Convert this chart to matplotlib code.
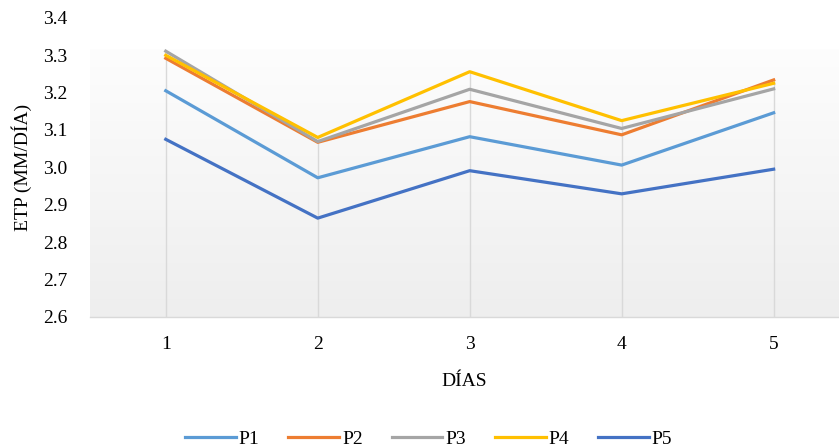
import numpy as np
import matplotlib.pyplot as plt
from matplotlib.colors import LinearSegmentedColormap

# datos
dias = [1, 2, 3, 4, 5]
p1 = [3.205, 2.972, 3.082, 3.006, 3.146]
p2 = [3.292, 3.067, 3.176, 3.087, 3.234]
p3 = [3.311, 3.069, 3.209, 3.104, 3.210]
p4 = [3.300, 3.080, 3.256, 3.125, 3.225]
p5 = [3.075, 2.864, 2.991, 2.929, 2.995]
nombres = ["P1", "P2", "P3", "P4", "P5"]
colores = ["#5B9BD5", "#ED7D31", "#A5A5A5", "#FFC000", "#4472C4"]

plt.rcParams['font.family'] = ['Liberation Serif', 'DejaVu Serif']

fig = plt.figure(figsize=(8.39, 4.48), dpi=100)
ax = fig.add_axes([0.107, 0.293, 0.893, 0.667])

ax.set_xlim(0.5, 5.43)
ax.set_ylim(2.6, 3.4)

series = [p1, p2, p3, p4, p5]

# fondo degradado del area de trazado
grad = np.linspace(0, 1, 256).reshape(-1, 1)
cmap = LinearSegmentedColormap.from_list("fondo", ["#fdfdfd", "#eeeeee"])
ax.imshow(grad, extent=(0.5, 5.43, 2.6, 3.315), cmap=cmap, aspect='auto', origin='upper', zorder=0)

# lineas de caida (desde el eje hasta el punto mas alto)
maximos = np.max(np.array(series), axis=0)
ax.vlines(dias, 2.6, maximos, color="#d9d9d9", lw=1, zorder=1)

for serie, nombre, c in zip(series, nombres, colores):
    ax.plot(dias, serie, color=c, lw=2.3, label=nombre, zorder=3)

ax.set_xticks(dias)
ax.set_yticks(np.arange(2.6, 3.41, 0.1))
ax.set_yticklabels([f"{v:.1f}" for v in np.arange(2.6, 3.41, 0.1)])
ax.tick_params(length=0, labelsize=14)
ax.tick_params(axis='x', pad=14)
ax.tick_params(axis='y', pad=16)

for s in ['top', 'right', 'left']:
    ax.spines[s].set_visible(False)
ax.spines['bottom'].set_color("#d9d9d9")
ax.spines['bottom'].set_linewidth(1)

ax.set_xlabel("DÍAS", fontsize=14, labelpad=14)
ax.set_ylabel("ETP (MM/DÍA)", fontsize=14, labelpad=8)

fig.legend(loc='center', bbox_to_anchor=(0.511, 0.02), ncol=5, frameon=False,
           fontsize=14, handlelength=2.6, columnspacing=1.5, handletextpad=0.15)

fig.savefig("out.png", dpi=100)
